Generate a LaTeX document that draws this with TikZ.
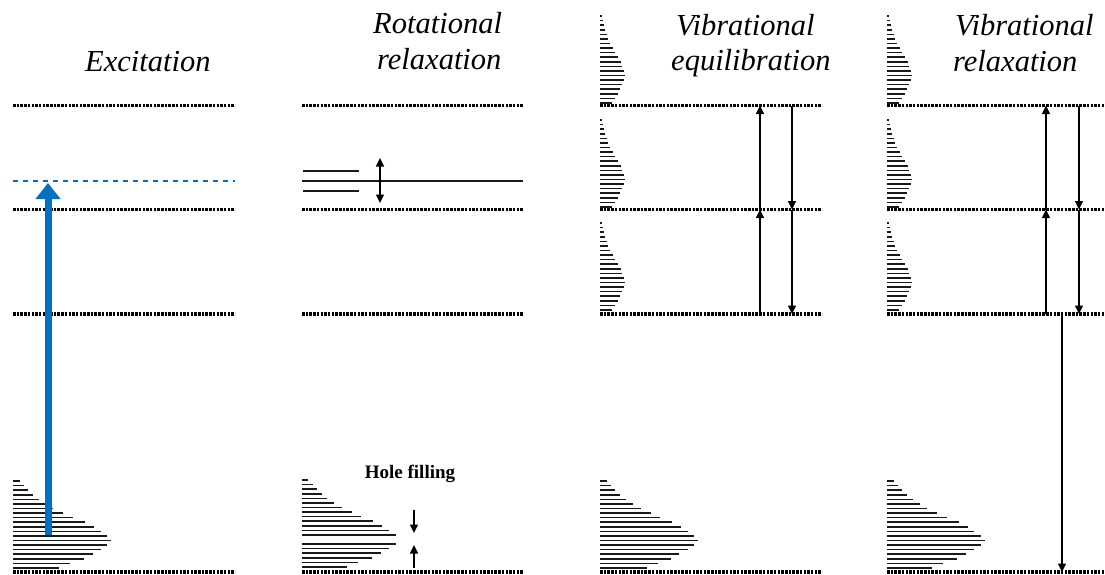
\documentclass[tikz,border=0pt]{standalone}
\usepackage{fontspec}
\setmainfont{Liberation Serif}
\usetikzlibrary{arrows.meta}
\definecolor{exblue}{RGB}{0,112,192}
\definecolor{ink}{RGB}{25,25,25}
\tikzset{
  levelline/.style={line width=3.1pt, dash pattern=on 2.5pt off 1.2pt, black},
  distline/.style={line width=1.6pt, ink},
  thinarrow/.style={line width=1.4pt, -{Triangle[length=8.5pt,width=8pt]}},
  bothArrow/.style={line width=1.4pt, {Triangle[length=8.5pt,width=8pt]}-{Triangle[length=8.5pt,width=8pt]}},
  titletext/.style={font=\itshape\fontsize{30.5}{36}\selectfont, inner sep=0pt, anchor=base west},
  holetext/.style={font=\bfseries\fontsize{19}{22}\selectfont, inner sep=0pt, anchor=base},
  bluearrow/.style={exblue, line width=7pt, -{Triangle[length=16pt,width=24pt]}},
  bluedash/.style={exblue, line width=2pt, dash pattern=on 4.5pt off 5.5pt},
}
\newcommand{\drawdist}[4]{%
  \foreach \L [count=\i] in {#4} {\ifnum\L>0 \draw[distline] (#1,{#2-(20-\i)*4.58}) -- ++({\L*#3},0);\fi}}
\begin{document}
\begin{tikzpicture}[x=1pt,y=-1pt]
\useasboundingbox (0,0) rectangle (1105,574);
% energy levels
\foreach \xa/\xb in {13/235, 302/523, 600/822, 887/1105} {
  \foreach \yl in {105.5,209.5,314,572} \draw[levelline] (\xa,\yl) -- (\xb,\yl);
}
% titles
\node[titletext] (t1) at (85,71) {Excitation};
\node[titletext] (t2a) at (373,33) {Rotational};
\node[titletext] (t2b) at (377,69) {relaxation};
\node[titletext] (t3a) at (676,35) {Vibrational};
\node[titletext] (t3b) at (671,70) {equilibration};
\node[titletext] (t4a) at (955,35) {Vibrational};
\node[titletext] (t4b) at (953,71) {relaxation};
\node[holetext] (hole) at (410,478) {Hole filling};
% bottom distributions
\drawdist{13}{568}{1}{7,11,15,20,26,33,40,50,60,72,81,88,94,98,94,88,80,71,57,46}
\drawdist{302}{567}{1}{6,11,15,20,25,32,40,50,59,71,80,87,94,0,94,87,79,70,56,45}
\drawdist{600}{568}{1}{7,11,15,20,26,33,41,51,60,72,81,88,94,98,94,88,79,71,58,47}
\drawdist{887}{568}{1}{7,11,15,20,26,33,40,50,60,72,81,87,94,98,94,87,79,70,56,45}
% upper distributions
\foreach \yb in {103,207,310} {
  \drawdist{600}{\yb}{0.255}{7,11,15,20,26,33,40,50,60,72,81,88,94,98,94,88,80,71,57,46}
  \drawdist{887}{\yb}{0.255}{7,11,15,20,26,33,40,50,60,72,81,88,94,98,94,88,80,71,57,46}
}
% excitation
\draw[bluedash] (13,181) -- (235,181);
\coordinate (exs) at (48,535);
\coordinate (exe) at (48,183);
\draw[bluearrow] (exs) -- (exe);
% rotational relaxation
\draw[line width=2.3pt, ink] (302,181) -- (523,181);
\draw[line width=1.8pt, ink] (303,171) -- (359,171);
\draw[line width=1.8pt, ink] (303,191) -- (359,191);
\coordinate (rA) at (380,158);
\coordinate (rB) at (380,203);
\draw[bothArrow] (rA) -- (rB);
% hole filling arrows
\coordinate (hA) at (414,510);
\coordinate (hB) at (414,533);
\coordinate (hC) at (414,568);
\coordinate (hD) at (414,545);
\draw[thinarrow] (hA) -- (hB);
\draw[thinarrow] (hC) -- (hD);
% vibrational equilibration arrows
\coordinate (e1) at (760,314);
\coordinate (e2) at (760,209.5);
\coordinate (e3) at (760,105.5);
\coordinate (f1) at (792,105.5);
\coordinate (f2) at (792,209.5);
\coordinate (f3) at (792,314);
\draw[thinarrow] (e1) -- (e2);
\draw[thinarrow] (e2) -- (e3);
\draw[thinarrow] (f1) -- (f2);
\draw[thinarrow] (f2) -- (f3);
% vibrational relaxation arrows
\coordinate (g1) at (1046,314);
\coordinate (g2) at (1046,209.5);
\coordinate (g3) at (1046,105.5);
\coordinate (h1) at (1079,105.5);
\coordinate (h2) at (1079,209.5);
\coordinate (h3) at (1079,314);
\draw[thinarrow] (g1) -- (g2);
\draw[thinarrow] (g2) -- (g3);
\draw[thinarrow] (h1) -- (h2);
\draw[thinarrow] (h2) -- (h3);
\coordinate (k1) at (1062,314);
\coordinate (k2) at (1062,572);
\draw[thinarrow] (k1) -- (k2);
\end{tikzpicture}
\end{document}
